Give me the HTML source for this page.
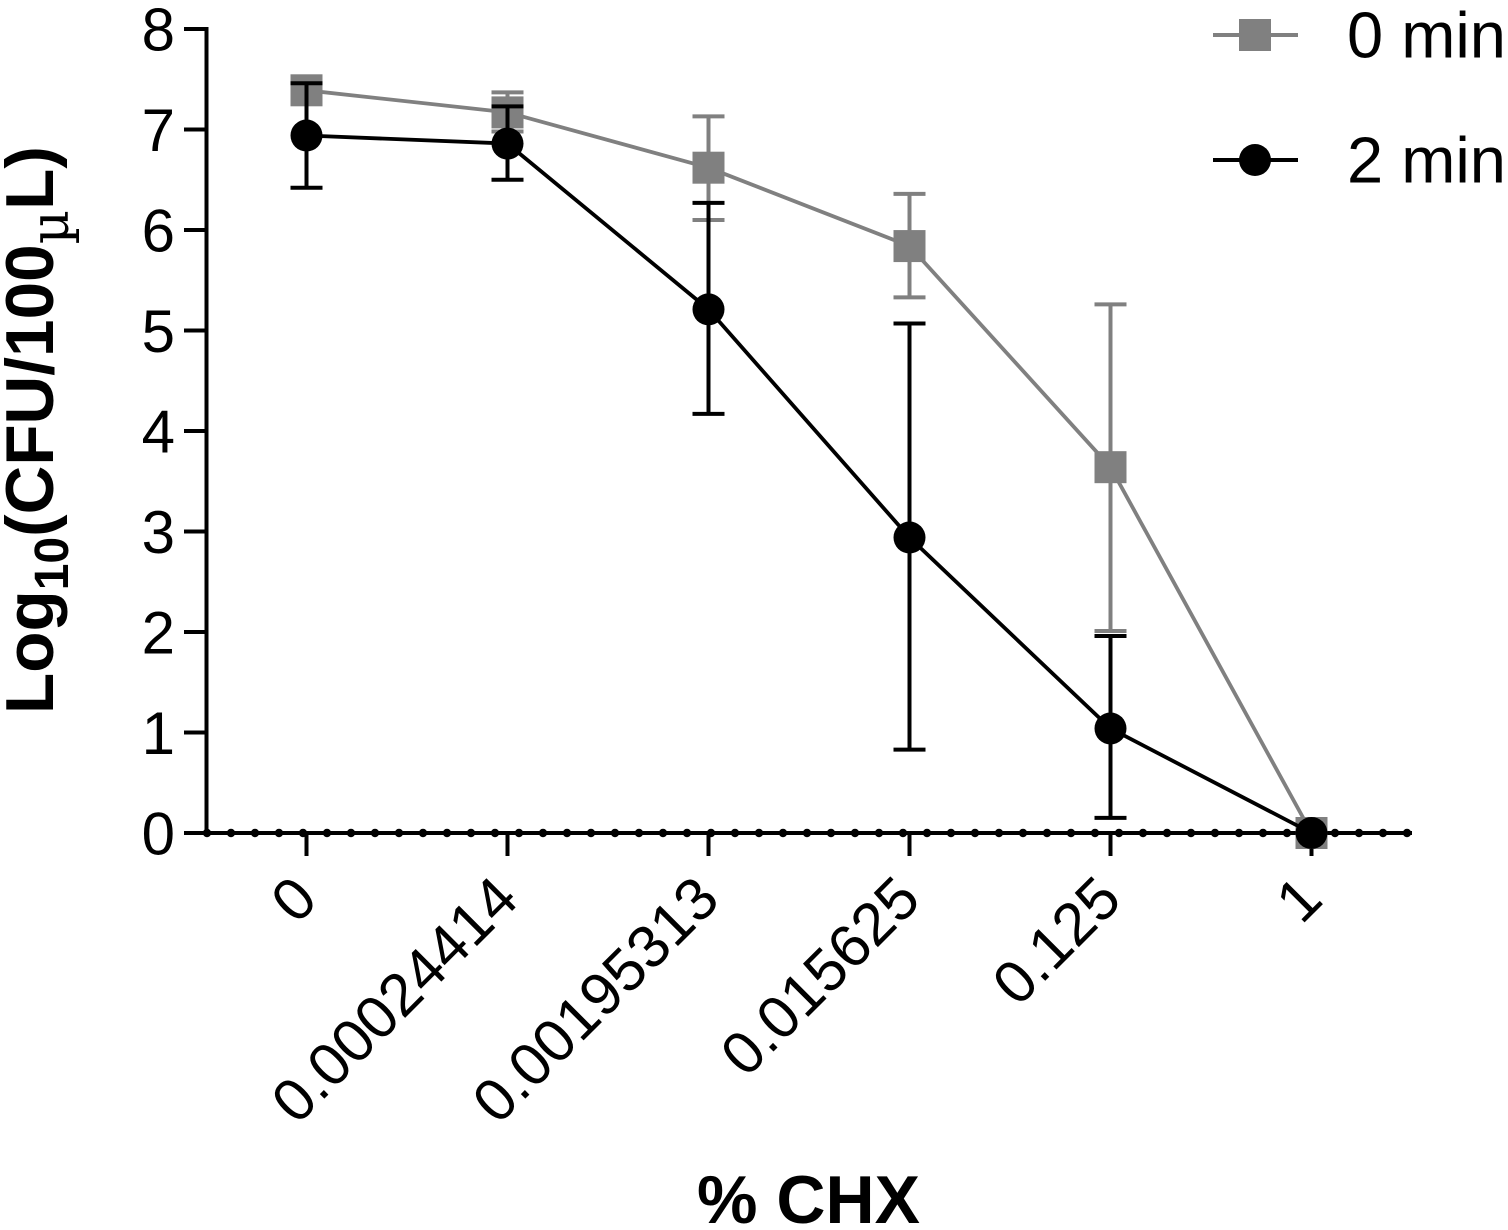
<!DOCTYPE html>
<html lang="en">
<head>
<meta charset="utf-8">
<title>Log10 CFU vs % CHX</title>
<style>
html,body{margin:0;padding:0;background:#fff;width:1508px;height:1230px;overflow:hidden}
svg{display:block}
text{font-family:"Liberation Sans",Arial,sans-serif;fill:#000}
</style>
</head>
<body>
<svg id="chart" xmlns="http://www.w3.org/2000/svg" width="1508" height="1230" viewBox="0 0 1508 1230">
  <rect x="0" y="0" width="1508" height="1230" fill="#fff"/>
  <text transform="translate(53,714) rotate(-90)" font-size="67.5" font-weight="bold">Log<tspan font-size="48" dy="15">10</tspan><tspan dy="-15">(CFU/100</tspan><tspan font-size="53" dy="15" style="font-family:'DejaVu Serif','Liberation Serif',serif" font-weight="normal">µ</tspan><tspan dy="-15">L)</tspan></text>
  <text x="808.5" y="1223" font-size="68" font-weight="bold" text-anchor="middle">% CHX</text>
</svg>
<script>
const categories = ["0", "0.00024414", "0.00195313", "0.015625", "0.125", "1"];
const yTicks = [0, 1, 2, 3, 4, 5, 6, 7, 8];
const mean0 = [7.39, 7.17, 6.62, 5.84, 3.64, 0];
const upper0 = [7.50, 7.37, 7.13, 6.36, 5.26, 0];
const lower0 = [7.28, 6.98, 6.10, 5.33, 2.01, 0];
const mean2 = [6.94, 6.86, 5.21, 2.94, 1.04, 0];
const upper2 = [7.46, 7.23, 6.27, 5.07, 1.96, 0];
const lower2 = [6.42, 6.50, 4.17, 0.83, 0.15, 0];
const legendLabels = ["0 min", "2 min"];

const GRAY = "#808080";
const BLACK = "#000";
const svg = document.getElementById("chart");
const NS = "http://www.w3.org/2000/svg";

function xScale(i) { return 306.5 + i * 201; }
function yScale(v) { return 833 - v * 100.5; }

function make(tag, attrs) {
  const el = document.createElementNS(NS, tag);
  for (const k in attrs) el.setAttribute(k, attrs[k]);
  svg.appendChild(el);
  return el;
}
function line(x1, y1, x2, y2, color, w) {
  return make("line", { x1: x1, y1: y1, x2: x2, y2: y2, stroke: color, "stroke-width": w });
}

// axes
const yAxis = line(206.5, yScale(8) - 2, 206.5, 835, BLACK, 4);


const xAxis = line(184, 833, 1412, 833, BLACK, 4);



// dotted baseline
for (let px = 207; px <= 1411; px += 24) {
  const dot = make("circle", { cx: px, cy: 833, r: 4.2, fill: BLACK });
  
  
}

// y ticks
yTicks.forEach(function (t) {
  const tick = line(184, yScale(t), 206, yScale(t), BLACK, 4);
  
  
  const label = make("text", { x: 175, y: yScale(t) + 21.5, "font-size": 60, "text-anchor": "end" });
  label.textContent = String(t);
  
  
});

// x ticks
categories.forEach(function (c, i) {
  const tick = line(xScale(i), 833, xScale(i), 856, BLACK, 4);
  
  
  const label = make("text", {
    transform: "translate(" + (xScale(i) + 13.5) + ",902) rotate(-45)",
    "font-size": 60, "text-anchor": "end"
  });
  label.textContent = c;
  
  
});

function drawSeries(mean, upper, lower, color, shape, name) {
  const path = make("polyline", {
    points: mean.map(function (v, i) { return xScale(i) + "," + yScale(v); }).join(" "),
    fill: "none", stroke: color, "stroke-width": 3.8, "stroke-linejoin": "round"
  });
  
  

  mean.forEach(function (v, i) {
    const x = xScale(i);
    const stem = line(x, yScale(upper[i]), x, yScale(lower[i]), color, 4);
    
    
    if (upper[i] !== lower[i]) {
      const capTop = line(x - 16, yScale(upper[i]), x + 16, yScale(upper[i]), color, 4);
      
      
      const capBottom = line(x - 16, yScale(lower[i]), x + 16, yScale(lower[i]), color, 4);
      
      
    }
  });
  mean.forEach(function (v, i) {
    const m = drawMarker(shape, xScale(i), yScale(v), color);
    
    
  });
}
function drawMarker(shape, x, y, color) {
  if (shape === "square") {
    return make("rect", { x: x - 16, y: y - 16, width: 32, height: 32, fill: color });
  }
  return make("circle", { cx: x, cy: y, r: 16, fill: color });
}

drawSeries(mean0, upper0, lower0, GRAY, "square", "series-0-min");
// 2 min error bars sit over the 0 min markers; its markers are on top of everything
drawSeries(mean2, upper2, lower2, BLACK, "circle", "series-2-min");

// legend
const legendY = [35, 160];
const legendColors = [GRAY, BLACK];
const legendShapes = ["square", "circle"];
legendLabels.forEach(function (txt, i) {
  const ln = line(1213, legendY[i], 1298, legendY[i], legendColors[i], 4);
  
  
  const mk = drawMarker(legendShapes[i], 1255, legendY[i], legendColors[i]);
  
  
  const label = make("text", { x: 1347, y: legendY[i] + 22.5, "font-size": 65 });
  label.textContent = txt;
  
  
});
</script>
</body>
</html>
